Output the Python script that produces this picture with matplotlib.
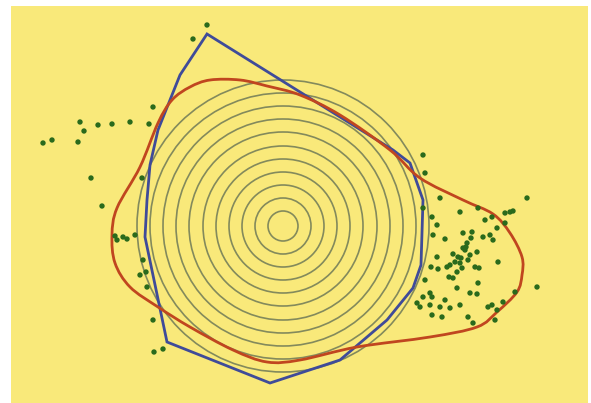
import numpy as np
import matplotlib.pyplot as plt
from matplotlib.patches import Circle, PathPatch
from matplotlib.path import Path

# Ring centre and radii of the concentric contours
center = (283, 226)
radii = [15, 28, 41, 54, 67, 80, 94, 107, 120, 133, 146]

# Blue polygon outline (closed)
poly_x = [207, 180, 170, 158, 150, 147, 145, 167, 270, 340, 387, 413, 421, 423, 410, 393]
poly_y = [34, 75, 100, 130, 165, 200, 237, 342, 383, 360, 320, 288, 265, 200, 163, 150]

# Red smooth boundary, nodes in order
curve_x = [210, 240, 267, 300, 340, 390, 420, 463, 493, 510, 522, 522, 517, 497, 477,
           430, 357, 300, 267, 233, 190, 158, 130, 115, 112, 117, 140, 158, 172, 190]
curve_y = [80, 80, 86, 95, 115, 150, 178, 200, 214, 233, 257, 275, 292, 312, 327,
           337, 347, 360, 362, 350, 327, 307, 287, 263, 235, 208, 167, 123, 100, 87]

# Scattered observations
pts_x = [207, 193, 153, 80, 84, 98, 112, 130, 149, 43, 52, 78, 91, 142,
         102, 115, 117, 123, 127, 135, 143, 140, 146, 147, 153, 154, 163,
         423, 425, 440, 527,
         460, 478, 492, 505, 510, 513, 432, 437, 463, 472, 497, 433, 445, 483,
         490, 493, 467, 463, 477, 453, 458, 437, 468, 498, 460, 431, 438, 447,
         462, 475, 479, 457, 449, 453, 425, 478, 457, 470, 477, 430, 432, 537,
         515, 423, 445, 417, 420, 430, 440, 450, 460, 488, 492, 503, 497, 432,
         442, 468, 473, 495, 465, 470, 455, 450, 461, 466, 471, 485, 505, 423]
pts_y = [25, 39, 107, 122, 131, 125, 124, 122, 124, 143, 140, 142, 178, 178,
         206, 236, 240, 237, 239, 235, 260, 275, 272, 287, 320, 352, 349,
         155, 173, 198, 198,
         212, 208, 217, 213, 212, 211, 217, 225, 233, 232, 228, 235, 239, 237,
         235, 240, 243, 248, 252, 254, 257, 257, 260, 262, 263, 267, 269, 267,
         268, 267, 268, 272, 277, 278, 280, 283, 288, 293, 294, 293, 297, 287,
         292, 297, 300, 303, 307, 305, 307, 308, 305, 307, 305, 302, 310, 315,
         317, 317, 323, 320, 250, 255, 262, 265, 258, 247, 238, 220, 223, 208]

W, H = 591, 403
fig = plt.figure(figsize=(W / 100, H / 100), dpi=100)
fig.patch.set_facecolor('white')
ax = fig.add_axes([11 / W, 0, (588 - 11) / W, (H - 6) / H])
ax.set_facecolor('#f9e97a')
ax.set_xlim(11, 588)
ax.set_ylim(403, 6)
ax.axis('off')
ax.add_patch(plt.Rectangle((11, 6), 577, 397, color='#f9e97a', zorder=0))

for r in radii:
    ax.add_patch(Circle(center, r, fill=False, edgecolor='#838a5c', lw=1.2, zorder=1))

ax.fill(poly_x, poly_y, fill=False, edgecolor='#3f4b99', lw=2.0, zorder=2)


def closed_bezier(xs, ys):
    # Catmull-Rom nodes turned into cubic Bezier segments
    p = np.column_stack([xs, ys]).astype(float)
    n = len(p)
    verts = [p[0]]
    codes = [Path.MOVETO]
    for i in range(n):
        p0, p1, p2, p3 = p[i - 1], p[i], p[(i + 1) % n], p[(i + 2) % n]
        verts += [p1 + (p2 - p0) / 6, p2 - (p3 - p1) / 6, p2]
        codes += [Path.CURVE4] * 3
    return Path(verts, codes)


ax.add_patch(PathPatch(closed_bezier(curve_x, curve_y), fill=False,
                       edgecolor='#c0461f', lw=2.0, zorder=3))

ax.scatter(pts_x, pts_y, s=15, color='#2a6a1c', edgecolors='none', zorder=4)

fig.savefig('out.png', dpi=100, facecolor='white')
